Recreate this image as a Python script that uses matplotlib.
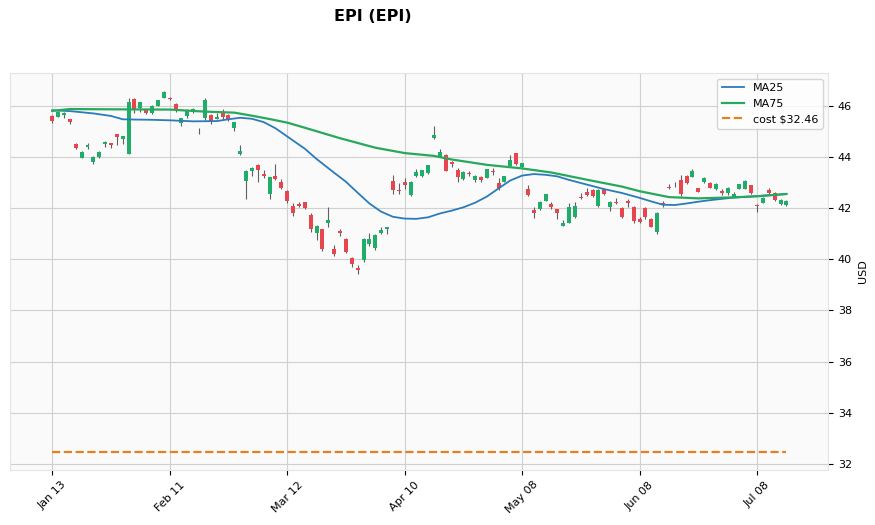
import matplotlib
matplotlib.use("Agg")
import matplotlib.pyplot as plt
import numpy as np

# daily candles (index = trading day)
opens = [45.60, 45.57, 45.64, 45.48, 44.50, 43.97, 44.40, 43.81, 43.98, 44.49,
         44.54, 44.89, 44.71, 44.13, 46.26, 45.93, 45.83, 45.70, 46.00, 46.31,
         46.31, 46.07, 45.31, 45.61, 45.77, 45.04, 45.51, 45.64, 45.49, 45.70,
         45.64, 45.14, 44.11, 43.06, 43.45, 43.68, 43.34, 42.55, 43.27, 43.00,
         42.67, 42.08, 42.16, 42.22, 41.73, 41.01, 41.17, 41.43, 40.40, 41.12,
         40.79, 40.06, 39.64, 39.97, 40.60, 40.43, 41.01, 41.18, 43.06, 42.71,
         43.03, 42.51, 43.25, 43.25, 43.36, 44.73, 44.01, 44.08, 43.79, 43.49,
         43.12, 43.36, 43.10, 43.20, 43.19, 43.46, 42.99, 43.03, 43.66, 44.14,
         43.59, 42.75, 41.92, 41.95, 42.29, 42.16, 41.96, 41.31, 41.43, 41.64,
         42.45, 42.64, 42.71, 42.08, 42.73, 42.05, 42.23, 42.01, 42.27, 42.05,
         41.56, 41.99, 41.56, 41.08, 42.21, 42.83, 42.85, 43.10, 43.26, 43.23,
         42.77, 43.03, 42.99, 42.75, 42.68, 42.58, 42.45, 42.75, 42.75, 42.90,
         42.10, 42.21, 42.71, 42.58, 42.16, 42.12]
highs = [45.65, 45.78, 45.77, 45.50, 44.55, 44.22, 44.54, 44.02, 44.22, 44.62,
         44.56, 44.90, 44.83, 46.29, 46.30, 46.15, 45.86, 46.02, 46.24, 46.57,
         46.33, 46.10, 45.53, 45.87, 45.92, 45.14, 46.29, 45.66, 45.70, 45.87,
         45.66, 45.37, 44.46, 43.47, 43.62, 43.72, 43.49, 43.22, 43.71, 43.12,
         42.70, 42.21, 42.25, 42.24, 41.82, 41.32, 41.20, 42.03, 40.56, 41.18,
         40.82, 40.10, 39.77, 40.82, 41.01, 40.99, 41.25, 41.27, 43.29, 42.99,
         43.16, 43.05, 43.51, 43.50, 43.70, 45.21, 44.30, 44.12, 43.85, 43.55,
         43.44, 43.46, 43.28, 43.27, 43.53, 43.55, 43.16, 43.27, 44.08, 44.16,
         43.77, 42.90, 42.05, 42.27, 42.56, 42.22, 41.98, 41.54, 42.19, 42.25,
         42.58, 42.77, 42.73, 42.73, 42.76, 42.27, 42.38, 42.03, 42.34, 42.08,
         41.64, 42.06, 41.60, 41.84, 42.29, 42.94, 43.03, 43.29, 43.29, 43.51,
         42.79, 43.23, 43.01, 42.99, 42.73, 42.83, 42.62, 42.96, 43.10, 42.92,
         42.15, 42.45, 42.77, 42.62, 42.34, 42.31]
lows = [45.33, 45.55, 45.54, 45.27, 44.32, 43.95, 44.31, 43.71, 43.95, 44.39,
        44.33, 44.46, 44.51, 44.12, 45.70, 45.77, 45.68, 45.68, 45.98, 46.29,
        46.22, 45.77, 45.22, 45.51, 45.70, 44.88, 45.44, 45.27, 45.47, 45.44,
        45.40, 45.02, 44.09, 42.34, 43.27, 43.00, 43.16, 42.34, 43.10, 42.74,
        42.18, 41.70, 42.03, 41.95, 41.08, 40.75, 40.32, 41.25, 40.13, 40.91,
        40.23, 39.68, 39.42, 39.91, 40.52, 40.37, 40.99, 40.99, 42.55, 42.54,
        42.74, 42.49, 43.23, 43.23, 43.34, 44.71, 43.99, 43.44, 43.62, 43.00,
        43.10, 43.26, 43.00, 43.03, 43.17, 43.29, 42.71, 43.00, 43.64, 43.69,
        43.57, 42.47, 41.60, 41.93, 42.27, 41.95, 41.57, 41.30, 41.40, 41.60,
        42.34, 42.47, 42.45, 42.06, 42.52, 41.90, 42.16, 41.62, 42.06, 41.40,
        41.40, 41.56, 41.25, 40.99, 42.03, 42.73, 42.81, 42.47, 42.94, 43.21,
        42.62, 42.97, 42.78, 42.71, 42.53, 42.51, 42.43, 42.73, 42.73, 42.55,
        41.86, 42.19, 42.54, 42.28, 42.14, 42.10]
closes = [45.40, 45.77, 45.71, 45.38, 44.36, 44.20, 44.46, 44.00, 44.20, 44.57,
          44.46, 44.79, 44.81, 46.13, 45.87, 46.13, 45.70, 46.00, 46.22, 46.55,
          46.25, 45.83, 45.51, 45.79, 45.87, 45.07, 46.22, 45.38, 45.57, 45.57,
          45.48, 45.35, 44.23, 43.45, 43.58, 43.49, 43.27, 43.20, 43.12, 42.80,
          42.28, 41.82, 42.08, 42.01, 41.17, 41.30, 40.39, 41.53, 40.21, 41.01,
          40.30, 39.80, 39.58, 40.79, 40.79, 40.95, 41.14, 41.25, 42.71, 42.67,
          42.90, 43.03, 43.42, 43.49, 43.68, 44.86, 44.20, 43.46, 43.71, 43.23,
          43.42, 43.32, 43.25, 43.10, 43.51, 43.40, 42.80, 43.25, 43.88, 43.71,
          43.75, 42.51, 41.79, 42.25, 42.54, 42.06, 41.79, 41.43, 42.03, 42.08,
          42.38, 42.51, 42.47, 42.71, 42.54, 42.25, 42.19, 41.64, 42.21, 41.51,
          41.44, 41.64, 41.27, 41.82, 42.11, 42.77, 42.87, 42.54, 42.97, 43.46,
          42.64, 43.16, 42.80, 42.94, 42.60, 42.77, 42.54, 42.94, 43.07, 42.58,
          42.09, 42.38, 42.58, 42.32, 42.32, 42.29]

# moving averages at these candle indices
ma25_idx = [0, 3, 7, 10, 12, 14, 17, 20, 24, 28, 30, 32, 34, 36, 38, 40, 43,
            45, 48, 50, 52, 54, 56, 58, 60, 62, 64, 66, 68, 70, 72, 74, 76,
            78, 80, 82, 84, 86, 88, 91, 94, 97, 100, 102, 104, 106, 108, 110,
            112, 116, 120, 125]
ma25 = [45.82, 45.79, 45.70, 45.60, 45.47, 45.46, 45.45, 45.43, 45.39, 45.40,
        45.47, 45.53, 45.49, 45.36, 45.12, 44.80, 44.32, 43.92, 43.38, 43.03,
        42.60, 42.18, 41.86, 41.66, 41.59, 41.58, 41.64, 41.79, 41.90, 42.03,
        42.21, 42.45, 42.77, 43.08, 43.27, 43.33, 43.30, 43.24, 43.10, 42.92,
        42.74, 42.59, 42.40, 42.26, 42.13, 42.12, 42.18, 42.25, 42.31, 42.41,
        42.47, 42.55]
ma75_idx = [0, 3, 10, 20, 26, 31, 34, 37, 40, 43, 49, 55, 60, 65, 68, 74,
            80, 85, 91, 97, 100, 105, 110, 116, 120, 125]
ma75 = [45.80, 45.87, 45.86, 45.85, 45.77, 45.73, 45.61, 45.48, 45.34, 45.14,
        44.73, 44.36, 44.15, 44.04, 43.90, 43.69, 43.55, 43.39, 43.11, 42.84,
        42.66, 42.43, 42.38, 42.42, 42.46, 42.55]

cost = 32.46
tick_labels = ["Jan 13", "Feb 11", "Mar 12", "Apr 10", "May 08", "Jun 08", "Jul 08"]

up_col = "#1fae6a"
down_col = "#e8464e"
wick_col = "#606060"

o = np.array(opens)
c = np.array(closes)
h = np.array(highs)
l = np.array(lows)
x = np.arange(len(o))
up = c >= o

fig = plt.figure(figsize=(8.75, 5.25), dpi=100)
ax = fig.add_axes([0.0114, 0.105, 0.935, 0.756])
ax.set_facecolor("#fafafa")
ax.grid(True, color="#d0d0d0", linewidth=0.8)
ax.set_axisbelow(True)

ax.vlines(x, l, h, color=wick_col, linewidth=0.8, zorder=2)
body = np.maximum(np.abs(c - o), 0.02)
ax.bar(x, body, bottom=np.minimum(o, c), width=0.68,
       color=np.where(up, up_col, down_col), linewidth=0, zorder=3)

ax.plot(ma25_idx, ma25, color="#2b7bba", linewidth=1.3, label="MA25", zorder=4)
ax.plot(ma75_idx, ma75, color="#27a85c", linewidth=1.6, label="MA75", zorder=4)
ax.plot([x[0], x[-1]], [cost, cost], color="#e67e22", linestyle="--",
        linewidth=1.6, label=f"cost ${cost:.2f}", zorder=4)

ax.set_xlim(-7.2, 132.1)
ax.set_ylim(31.77, 47.28)
ax.set_xticks(x[::20])
ax.set_xticklabels(tick_labels, rotation=45, fontsize=8)
ax.set_yticks(np.arange(32, 47, 2))
ax.yaxis.tick_right()
ax.yaxis.set_label_position("right")
ax.tick_params(axis="y", labelsize=8)
ax.set_ylabel("USD", fontsize=8)
for s in ax.spines.values():
    s.set_color("#e4e4e4")

ax.legend(loc="upper right", fontsize=8, frameon=True)
fig.text(0.426, 0.968, "EPI (EPI)", ha="center", va="center",
         fontsize=11.5, fontweight="bold")

fig.savefig("out.png", dpi=100)
